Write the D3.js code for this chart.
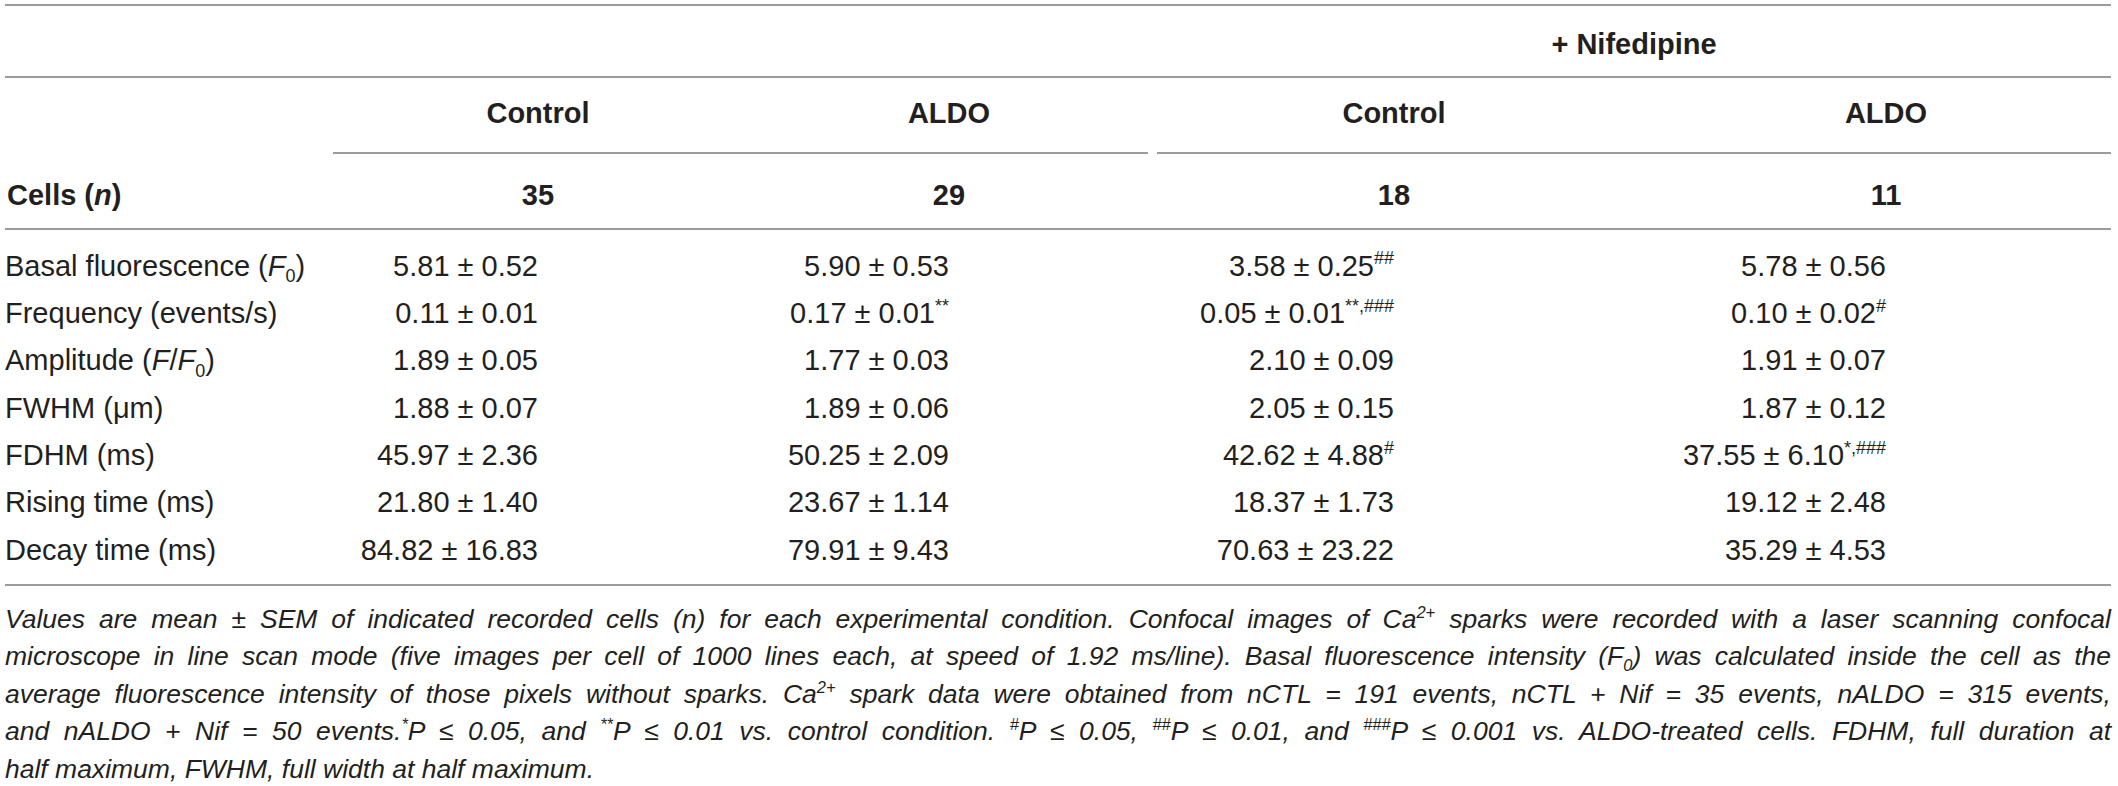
<!DOCTYPE html>
<html>
<head>
<meta charset="utf-8">
<script src="https://cdn.jsdelivr.net/npm/d3@7"></script>
<style>
	body { margin: 0; background: #fff; }
	svg text { fill: #231f20; font-family: "Liberation Sans", Arial, sans-serif; }
	.rule { stroke: #9c9c9c; stroke-width: 2; }
</style>
</head>
<body>
<script>
// Table content
const groupLabel = '+ Nifedipine';
const columns = ['Control', 'ALDO', 'Control', 'ALDO'];
const cellsN = [35, 29, 18, 11];
const parameters = [
	'Basal fluorescence (<i>F</i><sub>0</sub>)',
	'Frequency (events/s)',
	'Amplitude (<i>F</i>/<i>F</i><sub>0</sub>)',
	'FWHM (\u03bcm)',
	'FDHM (ms)',
	'Rising time (ms)',
	'Decay time (ms)'
];
const controlMean = [5.81, 0.11, 1.89, 1.88, 45.97, 21.80, 84.82];
const controlSem = [0.52, 0.01, 0.05, 0.07, 2.36, 1.40, 16.83];
const controlMarks = ['', '', '', '', '', '', ''];
const aldoMean = [5.90, 0.17, 1.77, 1.89, 50.25, 23.67, 79.91];
const aldoSem = [0.53, 0.01, 0.03, 0.06, 2.09, 1.14, 9.43];
const aldoMarks = ['', '**', '', '', '', '', ''];
const nifControlMean = [3.58, 0.05, 2.10, 2.05, 42.62, 18.37, 70.63];
const nifControlSem = [0.25, 0.01, 0.09, 0.15, 4.88, 1.73, 23.22];
const nifControlMarks = ['##', '**,###', '', '', '#', '', ''];
const nifAldoMean = [5.78, 0.10, 1.91, 1.87, 37.55, 19.12, 35.29];
const nifAldoSem = [0.56, 0.02, 0.07, 0.12, 6.10, 2.48, 4.53];
const nifAldoMarks = ['', '#', '', '', '*,###', '', ''];

const footnoteLines = [
	'Values are mean \u00b1 SEM of indicated recorded cells (n) for each experimental condition. Confocal images of Ca<sup>2+</sup> sparks were recorded with a laser scanning confocal',
	'microscope in line scan mode (five images per cell of 1000 lines each, at speed of 1.92 ms/line). Basal fluorescence intensity (F<sub>0</sub>) was calculated inside the cell as the',
	'average fluorescence intensity of those pixels without sparks. Ca<sup>2+</sup> spark data were obtained from nCTL = 191 events, nCTL + Nif = 35 events, nALDO = 315 events,',
	'and nALDO + Nif = 50 events.<sup>*</sup>P \u2264 0.05, and <sup>**</sup>P \u2264 0.01 vs. control condition. <sup>#</sup>P \u2264 0.05, <sup>##</sup>P \u2264 0.01, and <sup>###</sup>P \u2264 0.001 vs. ALDO-treated cells. FDHM, full duration at',
	'half maximum, FWHM, full width at half maximum.'
];

const series = [
	{ 'mean': controlMean, 'sem': controlSem, 'marks': controlMarks },
	{ 'mean': aldoMean, 'sem': aldoSem, 'marks': aldoMarks },
	{ 'mean': nifControlMean, 'sem': nifControlSem, 'marks': nifControlMarks },
	{ 'mean': nifAldoMean, 'sem': nifAldoSem, 'marks': nifAldoMarks }
];

// Layout
const width = 2118, height = 786;
const left = 5, right = 2111;
const fontSize = 29;
const capShift = 10.5;

const colX = d3.scaleOrdinal().domain(d3.range(columns.length)).range([538, 949, 1394, 1886]);
const rowY = d3.scalePoint().domain(d3.range(parameters.length)).range([265, 549]);
const noteY = d3.scalePoint().domain(d3.range(footnoteLines.length)).range([628, 777.5]);
const fmt = d3.format('.2f');

const svg = d3.select('body').append('svg')
	.attr('width', width)
	.attr('height', height);

// Write a string with <i>, <sub>, <sup> markup as tspans
const rich = function(textSel, str, size) {
	const parts = str.split(/(<i>.*?<\/i>|<sub>.*?<\/sub>|<sup>.*?<\/sup>)/).filter(p => p !== '');
	let shift = 0;
	for (const part of parts) {
		let m, target = 0, content = part, small = false, italic = false;
		if ((m = part.match(/^<i>(.*)<\/i>$/))) { content = m[1]; italic = true; }
		else if ((m = part.match(/^<sub>(.*)<\/sub>$/))) { content = m[1]; target = size * 0.22; small = true; }
		else if ((m = part.match(/^<sup>(.*)<\/sup>$/))) { content = m[1]; target = -size * 0.38; small = true; }
		const t = textSel.append('tspan').text(content);
		if (target - shift !== 0) t.attr('dy', target - shift);
		shift = target;
		if (small) t.style('font-size', (size * 0.62) + 'px');
		if (italic) t.style('font-style', 'italic');
	}
};

// Rules
const rules = [
	{ 'y': 5, 'x0': left, 'x1': right },
	{ 'y': 77, 'x0': left, 'x1': right },
	{ 'y': 153, 'x0': 333, 'x1': 1148 },
	{ 'y': 153, 'x0': 1157, 'x1': right },
	{ 'y': 229, 'x0': left, 'x1': right },
	{ 'y': 585, 'x0': left, 'x1': right }
];
svg.selectAll('line.rule')
	.data(rules)
.join('line')
	.attr('class', 'rule')
	.attr('x1', d => d.x0)
	.attr('x2', d => d.x1)
	.attr('y1', d => d.y)
	.attr('y2', d => d.y);

// Header rows
svg.append('text')
	.attr('x', (1157 + right) / 2)
	.attr('y', 43 + capShift)
	.attr('text-anchor', 'middle')
	.style('font-size', fontSize + 'px')
	.style('font-weight', 'bold')
	.text(groupLabel);

svg.selectAll('text.colhead')
	.data(columns)
.join('text')
	.attr('class', 'colhead')
	.attr('x', (d, i) => colX(i))
	.attr('y', 112 + capShift)
	.attr('text-anchor', 'middle')
	.style('font-size', fontSize + 'px')
	.style('font-weight', 'bold')
	.text(d => d);

const cellsLabel = svg.append('text')
	.attr('x', 7)
	.attr('y', 194 + capShift)
	.style('font-size', fontSize + 'px')
	.style('font-weight', 'bold');
rich(cellsLabel, 'Cells (<i>n</i>)', fontSize);

svg.selectAll('text.cellsn')
	.data(cellsN)
.join('text')
	.attr('class', 'cellsn')
	.attr('x', (d, i) => colX(i))
	.attr('y', 194 + capShift)
	.attr('text-anchor', 'middle')
	.style('font-size', fontSize + 'px')
	.style('font-weight', 'bold')
	.text(d => d);

// Body rows
svg.selectAll('text.param')
	.data(parameters)
.join('text')
	.attr('class', 'param')
	.attr('x', left)
	.attr('y', (d, i) => rowY(i) + capShift)
	.style('font-size', fontSize + 'px')
	.each(function(d) { rich(d3.select(this), d, fontSize); });

series.forEach((s, c) => {
	svg.selectAll('text.val-' + c)
		.data(s.mean)
	.join('text')
		.attr('class', 'val-' + c)
		.attr('x', colX(c))
		.attr('y', (d, i) => rowY(i) + capShift)
		.attr('text-anchor', 'end')
		.style('font-size', fontSize + 'px')
		.each(function(d, i) {
			const str = fmt(d) + ' \u00b1 ' + fmt(s.sem[i]) + (s.marks[i] ? '<sup>' + s.marks[i] + '</sup>' : '');
			rich(d3.select(this), str, fontSize);
		});
});

// Footnote, justified line by line
const noteSize = 26.5;
svg.selectAll('text.note')
	.data(footnoteLines)
.join('text')
	.attr('class', 'note')
	.attr('x', left)
	.attr('y', (d, i) => noteY(i))
	.style('font-size', noteSize + 'px')
	.style('font-style', 'italic')
	.style('font-family', '"Liberation Sans Narrow", "Liberation Sans", Arial, sans-serif')
	.each(function(d, i) {
		const sel = d3.select(this);
		rich(sel, d, noteSize);
		if (i === footnoteLines.length - 1) return;
		const natural = this.getComputedTextLength();
		const spaces = (d.replace(/<[^>]+>/g, '').match(/ /g) || []).length;
		const target = right - left;
		if (natural <= target) {
			sel.style('word-spacing', ((target - natural) / spaces) + 'px');
		}
		else {
			sel.attr('textLength', target).attr('lengthAdjust', 'spacingAndGlyphs');
		}
	});
</script>
</body>
</html>
